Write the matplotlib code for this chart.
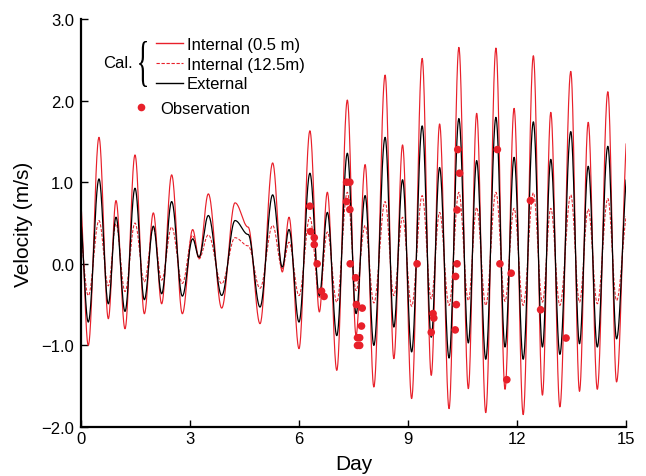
import numpy as np
import matplotlib
matplotlib.use("Agg")
import matplotlib.pyplot as plt
import matplotlib.transforms as mtransforms
from matplotlib.textpath import TextPath
from matplotlib.patches import PathPatch
from matplotlib.font_manager import FontProperties
from matplotlib.lines import Line2D
from matplotlib.ticker import FuncFormatter

plt.rcParams['font.family'] = ['Liberation Sans', 'DejaVu Sans']

# times of the turning points (days), shared by the three computed curves
t_ext = [-0.04, 0.20, 0.495, 0.752, 0.963, 1.211, 1.486, 1.743, 1.991, 2.22,
         2.495, 2.789, 3.073, 3.248, 3.505, 3.872, 4.239, 4.60, 4.927, 5.275,
         5.54, 5.725, 6.0, 6.30, 6.56, 6.78, 7.04, 7.33, 7.57, 7.82,
         8.06, 8.37, 8.61, 8.85, 9.10, 9.39, 9.64, 9.87, 10.13, 10.40,
         10.66, 10.89, 11.14, 11.42, 11.67, 11.92, 12.17, 12.45, 12.70, 12.93,
         13.18, 13.48, 13.72, 13.96, 14.21, 14.50, 14.74, 15.06]

# velocity at those turning points (m/s)
v_internal_05 = [0.855, -1.0, 1.55, -0.673, 0.775, -0.796, 1.334, -0.612, 0.624, -0.49,
                 1.09, -0.612, 0.42, 0.07, 0.857, -0.543, 0.747, 0.45, -0.734, 1.236,
                 -0.10, 0.571, -1.04, 1.63, -0.59, 0.877, -1.306, 2.007, -0.877, 1.216,
                 -1.51, 2.313, -1.163, 1.457, -1.652, 2.517, -1.367, 1.714, -1.775, 2.652,
                 -1.53, 1.844, -1.824, 2.644, -1.538, 1.905, -1.848, 2.55, -1.61, 1.856,
                 -1.754, 2.358, -1.563, 1.734, -1.538, 2.109, -1.448, 1.70]
v_internal_125 = [0.38, -0.39, 0.53, -0.27, 0.49, -0.34, 0.50, -0.22, 0.44, -0.20,
                  0.45, -0.24, 0.35, 0.06, 0.355, -0.245, 0.32, 0.22, -0.30, 0.47,
                  -0.06, 0.265, -0.39, 0.57, -0.41, 0.39, -0.47, 0.877, -0.33, 0.47,
                  -0.48, 0.763, -0.39, 0.57, -0.52, 0.836, -0.43, 0.63, -0.51, 0.877,
                  -0.45, 0.69, -0.51, 0.877, -0.46, 0.68, -0.51, 0.87, -0.47, 0.68,
                  -0.51, 0.845, -0.47, 0.67, -0.49, 0.80, -0.45, 0.665]
v_external = [0.60, -0.714, 1.04, -0.49, 0.571, -0.583, 0.926, -0.44, 0.461, -0.367,
              0.763, -0.396, 0.306, 0.082, 0.592, -0.388, 0.53, 0.36, -0.53, 0.845,
              -0.04, 0.42, -0.714, 1.11, -0.39, 0.63, -0.88, 1.355, -0.61, 0.836,
              -1.0, 1.55, -0.775, 1.03, -1.08, 1.69, -0.90, 1.18, -1.155, 1.78,
              -0.97, 1.265, -1.17, 1.795, -1.02, 1.305, -1.17, 1.74, -1.02, 1.28,
              -1.11, 1.62, -0.98, 1.195, -1.02, 1.44, -0.92, 1.18]

# observed velocities
obs_day = [6.30, 6.32, 6.42, 6.42, 6.50, 6.62, 6.69, 7.31, 7.40, 7.31,
           7.40, 7.41, 7.56, 7.58, 7.61, 7.67, 7.61, 7.67, 7.72, 7.74,
           9.25, 9.69, 9.71, 9.64, 10.37, 10.42, 10.35, 10.35, 10.31, 10.33,
           10.30, 11.46, 11.53, 11.72, 11.84, 12.37, 12.65, 13.35]
obs_vel = [0.706, 0.395, 0.32, 0.235, 0.0, -0.335, -0.40, 1.0, 1.0, 0.763,
           0.665, 0.0, -0.171, -0.50, -0.906, -0.906, -1.0, -1.0, -0.763, -0.543,
           0.0, -0.61, -0.665, -0.84, 1.40, 1.11, 0.66, 0.0, -0.155, -0.50,
           -0.81, 1.40, 0.0, -1.42, -0.115, 0.775, -0.563, -0.91]

labels = ['Internal (0.5 m)', 'Internal (12.5m)', 'External']
RED = '#e8202a'
W, H = 646, 477


def through_turning_points(t, v, n=40):
    # half-cosine between consecutive turning points
    ts, vs = [], []
    for i in range(len(t) - 1):
        s = np.linspace(0, 1, n, endpoint=False)
        ts.append(t[i] + (t[i + 1] - t[i]) * s)
        vs.append(v[i] + (v[i + 1] - v[i]) * (1 - np.cos(np.pi * s)) / 2)
    ts.append([t[-1]])
    vs.append([v[-1]])
    return np.concatenate(ts), np.concatenate(vs)


fig = plt.figure(figsize=(W / 100, H / 100), dpi=100)
ax = fig.add_axes([81 / W, 1 - 428 / H, (626 - 81) / W, (428 - 20) / H])

x, y = through_turning_points(t_ext, v_internal_05)
ax.plot(x, y, color=RED, lw=0.85)
x, y = through_turning_points(t_ext, v_internal_125)
ax.plot(x, y, color=RED, lw=0.75, ls=(0, (3, 1.5)))
x, y = through_turning_points(t_ext, v_external)
ax.plot(x, y, color='black', lw=0.9)
ax.scatter(obs_day, obs_vel, s=30, color=RED, edgecolors='none', zorder=5)

ax.set_xlim(0, 15)
ax.set_ylim(-2, 3)
ax.set_xticks(range(0, 16, 3))
ax.set_yticks(range(-2, 4))
ax.yaxis.set_major_formatter(FuncFormatter(lambda v, p: f"{v:.1f}".replace('-', '\u2212')))
for s in ['top', 'right']:
    ax.spines[s].set_visible(False)
for s in ['left', 'bottom']:
    ax.spines[s].set_linewidth(1.6)
ax.tick_params(direction='in', length=5, width=1, labelsize=12)
ax.tick_params(axis='x', pad=3)
ax.tick_params(axis='y', pad=5)
ax.set_xlabel('Day', fontsize=15, labelpad=6)
ax.set_ylabel('Velocity (m/s)', fontsize=15, labelpad=6)

# legend
handles = [Line2D([], [], color=RED, lw=1),
           Line2D([], [], color=RED, lw=0.8, ls=(0, (3, 1.5))),
           Line2D([], [], color='black', lw=1)]
leg1 = ax.legend(handles, labels, loc='upper left',
                 bbox_to_anchor=(156 / W, 1 - 38 / H), bbox_transform=fig.transFigure,
                 frameon=False, fontsize=12, handlelength=1.6, handletextpad=0.25,
                 labelspacing=0.28, borderpad=0, borderaxespad=0)
ax.add_artist(leg1)
ax.legend([Line2D([], [], ls='none', marker='o', ms=5.5, color=RED, mec='none')],
          ['Observation'], loc='upper left',
          bbox_to_anchor=(134 / W, 1 - 102 / H), bbox_transform=fig.transFigure,
          frameon=False, fontsize=12, handlelength=0.8, handletextpad=0.75,
          borderpad=0, borderaxespad=0)

fig.text(133 / W, 1 - 64 / H, 'Cal.', ha='right', va='center', fontsize=12)

# curly brace
tp = TextPath((0, 0), '{', size=1, prop=FontProperties(family='Liberation Serif'))
ext = tp.get_extents()
bx0, bx1, by0, by1 = 139 / W, 147 / W, 1 - 88 / H, 1 - 42 / H
tr = (mtransforms.Affine2D().translate(-ext.x0, -ext.y0)
      .scale((bx1 - bx0) / ext.width, (by1 - by0) / ext.height)
      .translate(bx0, by0) + fig.transFigure)
fig.add_artist(PathPatch(tp, transform=tr, fc='black', ec='none'))

fig.savefig('out.png', dpi=100)
